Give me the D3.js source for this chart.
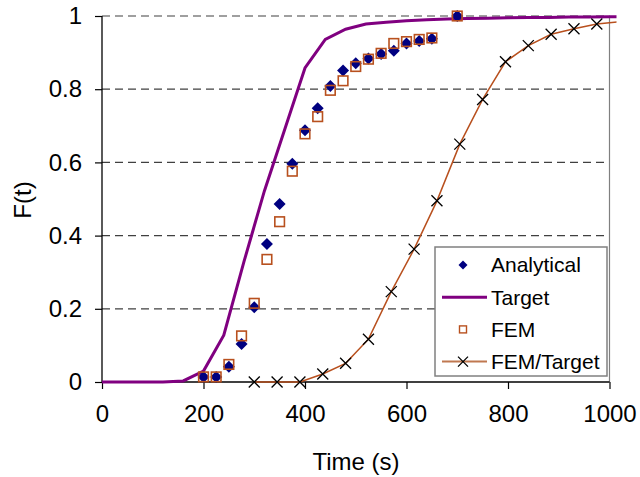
<!DOCTYPE html>
<html>
<head>
<meta charset="utf-8">
<script src="https://cdn.jsdelivr.net/npm/d3@7"></script>
<style>
  body { margin:0; background:#fff; }
  text { font-family: "Liberation Sans", Arial, sans-serif; fill:#000; }
</style>
</head>
<body>
<div id="chart"></div>
<script>
// F(t) vs time: analytical, target, FEM and FEM/Target curves
const fineTimes = [200,225,250,275,300,325,350,375,400,425,450,475,500,525,550,575,600,625,650,700];
const analytical = [0.014,0.014,0.042,0.104,0.204,0.377,0.486,0.596,0.688,0.748,0.809,0.851,0.871,0.884,0.896,0.905,0.925,0.932,0.938,1.0];
const fem        = [0.014,0.014,0.048,0.126,0.215,0.335,0.438,0.576,0.678,0.725,0.797,0.823,0.862,0.882,0.898,0.925,0.930,0.936,0.940,1.0];

const targetTimes = [0,40,80,120,160,200,240,280,320,360,400,440,480,520,560,600,640,680,720,760,800,840,880,920,960,1000,1040];
const target      = [0,0,0,0,0.003,0.030,0.128,0.330,0.522,0.690,0.858,0.936,0.964,0.978,0.983,0.987,0.990,0.992,0.993,0.994,0.995,0.996,0.996,0.997,0.997,0.998,0.998];

const ftTimes = [300,345,390,435,480,525,570,615,660,705,750,795,840,885,930,975,1020];
const femTarget = [0,0,0,0.022,0.051,0.117,0.247,0.363,0.495,0.650,0.772,0.875,0.919,0.950,0.965,0.978,0.984];

const yTicks = [0,0.2,0.4,0.6,0.8,1];
const xTicks = [0,200,400,600,800,1000];

const W = 640, H = 477;
const C = { navy:'#000080', purple:'#800080', brown:'#B8501E', grid:'#404040' };

const svg = d3.select('#chart').append('svg').attr('width',W).attr('height',H);
const x = d3.scaleLinear().domain([0,1000]).range([102,609.5]);
const y = d3.scaleLinear().domain([0,1]).range([382,16]);

// dashed gridlines
svg.append('g').selectAll('line').data(yTicks.filter(d=>d>0)).enter().append('line')
  .attr('x1',x(0)).attr('x2',x(1000)).attr('y1',d=>y(d)).attr('y2',d=>y(d))
  .attr('stroke',C.grid).attr('stroke-width',1.2).attr('stroke-dasharray','8,5');

// right border
svg.append('line').attr('x1',x(1000)).attr('x2',x(1000)).attr('y1',y(1)).attr('y2',y(0))
  .attr('stroke','#808080').attr('stroke-width',1.2);

// axes
const yAxis = svg.append('g').attr('transform',`translate(${x(0)},0)`)
  .call(d3.axisLeft(y).tickValues(yTicks).tickFormat(d3.format('')).tickSize(7).tickPadding(13));
const xAxis = svg.append('g').attr('transform',`translate(0,${y(0)})`)
  .call(d3.axisBottom(x).tickValues(xTicks).tickFormat(d3.format('d')).tickSize(7).tickPadding(16));
[yAxis,xAxis].forEach(a=>{
  a.select('.domain').attr('stroke','#000').attr('stroke-width',1.3);
  a.selectAll('.tick line').attr('stroke','#000').attr('stroke-width',1.2);
  a.selectAll('.tick text').style('font-size','24px').style('font-family','"Liberation Sans", Arial, sans-serif');
});
xAxis.select('.domain').attr('d',`M${x(0)},0H${x(1000)}`);
yAxis.select('.domain').attr('d',`M0,${y(0)}V${y(1)}`);

// axis titles
svg.append('text').attr('x',356).attr('y',470).attr('text-anchor','middle')
  .style('font-size','24px').text('Time (s)');
svg.append('text').attr('transform','translate(31,200) rotate(-90)').attr('text-anchor','middle')
  .style('font-size','24px').text('F(t)');

// clip for lines (lines run a little past the right border)
svg.append('clipPath').attr('id','clip').append('rect')
  .attr('x',x(0)-2).attr('y',0).attr('width',x(1000)-x(0)+9).attr('height',y(0)+4);

const line = d3.line().x(d=>x(d[0])).y(d=>y(d[1]));
const plot = svg.append('g').attr('clip-path','url(#clip)');

plot.append('path').datum(ftTimes.map((t,i)=>[t,femTarget[i]]))
  .attr('d',line).attr('fill','none').attr('stroke',C.brown).attr('stroke-width',1.5);
plot.append('path').datum(targetTimes.map((t,i)=>[t,target[i]]))
  .attr('d',line).attr('fill','none').attr('stroke',C.purple).attr('stroke-width',3);

// markers
const diamond = s => `M0,${-s}L${s},0L0,${s}L${-s},0Z`;
const cross = s => `M${-s},${-s}L${s},${s}M${-s},${s}L${s},${-s}`;

svg.append('g').selectAll('path').data(ftTimes.filter(t=>t<=1000)).enter().append('path')
  .attr('transform',(t,i)=>`translate(${x(t)},${y(femTarget[i])})`)
  .attr('d',cross(5.5)).attr('stroke','#000').attr('stroke-width',1.3).attr('fill','none');

svg.append('g').selectAll('path').data(fineTimes).enter().append('path')
  .attr('transform',(t,i)=>`translate(${x(t)},${y(analytical[i])})`)
  .attr('d',diamond(6)).attr('fill',C.navy);

svg.append('g').selectAll('rect').data(fineTimes).enter().append('rect')
  .attr('x',t=>x(t)-4.8).attr('y',(t,i)=>y(fem[i])-4.8).attr('width',9.6).attr('height',9.6)
  .attr('fill','none').attr('stroke',C.brown).attr('stroke-width',1.6);

// legend
const lg = svg.append('g');
lg.append('rect').attr('x',435).attr('y',247).attr('width',172).attr('height',129)
  .attr('fill','#fff').attr('stroke','#808080').attr('stroke-width',1.5);
const legItems = ['Analytical','Target','FEM','FEM/Target'];
legItems.forEach((name,i)=>{
  const cy = 265 + i*32.2;
  const g = lg.append('g').attr('transform',`translate(463,${cy})`);
  if(name==='Analytical') g.append('path').attr('d',diamond(4.5)).attr('fill',C.navy);
  if(name==='Target') g.append('line').attr('x1',-21).attr('x2',24).attr('stroke',C.purple).attr('stroke-width',3);
  if(name==='FEM') g.append('rect').attr('x',-3.5).attr('y',-3.5).attr('width',7).attr('height',7)
    .attr('fill','none').attr('stroke',C.brown).attr('stroke-width',1.4);
  if(name==='FEM/Target'){
    g.append('line').attr('x1',-21).attr('x2',24).attr('stroke','#C07850').attr('stroke-width',2);
    g.append('path').attr('d',cross(5)).attr('stroke','#000').attr('stroke-width',1.3);
  }
  lg.append('text').attr('x',491).attr('y',cy).attr('dy','0.35em')
    .style('font-size','21px').text(name);
});
</script>
</body>
</html>
